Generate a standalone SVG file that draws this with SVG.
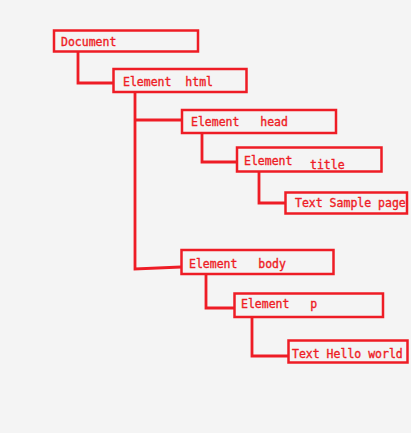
<svg xmlns="http://www.w3.org/2000/svg" width="411" height="433" viewBox="0 0 411 433">
<style>
.box{fill:none;stroke:#ee1c25;stroke-width:2.5}
.ln{fill:none;stroke:#ee1c25;stroke-width:2.8}
text{font-family:"DejaVu Sans Mono","Liberation Mono",monospace;font-size:11.5px;fill:#ee1c25;stroke:#ee1c25;stroke-width:0.35}
</style>
<rect width="411" height="433" fill="#f4f4f4"/>
<g id="connectors">
<path class="ln" d="M78,52 V83 H113"/>
<path class="ln" d="M135,92 V269 L181,267"/>
<path class="ln" d="M135,120 H182"/>
<path class="ln" d="M202,133 V162 H237"/>
<path class="ln" d="M259,172 V203 H285"/>
<path class="ln" d="M206,274 V308 H234"/>
<path class="ln" d="M252,317 V356 H288"/>
</g>
<g id="document"><rect class="box" x="54" y="30.5" width="144" height="21"/><text x="61" y="46">Document</text></g>
<g id="html"><rect class="box" x="113.5" y="69" width="133" height="23"/><text x="123" y="86" xml:space="preserve">Element  html</text></g>
<g id="head"><rect class="box" x="182" y="110" width="154" height="23"/><text x="191" y="126" xml:space="preserve">Element   head</text></g>
<g id="title"><rect class="box" x="237" y="147.5" width="144.5" height="24"/><text x="244" y="165">Element</text><text x="310" y="169">title</text></g>
<g id="text-sample"><rect class="box" x="285.5" y="192.5" width="121.5" height="21"/><text x="295" y="207">Text Sample page</text></g>
<g id="body"><rect class="box" x="181.5" y="250" width="152" height="24"/><text x="189" y="268" xml:space="preserve">Element   body</text></g>
<g id="p"><rect class="box" x="234.5" y="293.5" width="148.5" height="23.5"/><text x="241" y="308" xml:space="preserve">Element   p</text></g>
<g id="text-hello"><rect class="box" x="288.5" y="340.5" width="119" height="22"/><text x="292" y="358">Text Hello world</text></g>
</svg>
